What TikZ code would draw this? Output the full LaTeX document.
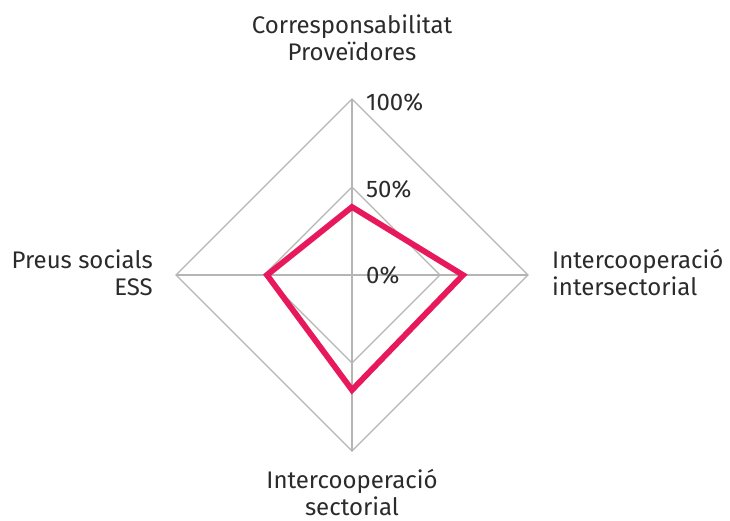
\documentclass[tikz,border=0pt]{standalone}
\usepackage{fontspec}
\setmainfont{Fira Sans}
\definecolor{gridgray}{HTML}{B5B5B5}
\definecolor{datapink}{HTML}{E8185C}
\definecolor{txt}{HTML}{2B2B2B}
\begin{document}
\begin{tikzpicture}[x=1pt,y=-1pt,
  grid/.style={draw=gridgray,line width=1.3pt},
  series/.style={draw=datapink,line width=5.8pt,line join=miter},
  lbl/.style={text=txt,font=\fontsize{24}{27}\selectfont,inner sep=0pt},
  tick/.style={text=txt,font=\fontsize{24}{27}\selectfont,inner sep=0pt,anchor=base west}]
\useasboundingbox (0,0) rectangle (730,520);
\coordinate (O) at (352,275);
\coordinate (T) at (352,99);
\coordinate (R) at (528,275);
\coordinate (B) at (352,451);
\coordinate (L) at (176,275);
\coordinate (T5) at (352,187);
\coordinate (R5) at (440,275);
\coordinate (B5) at (352,363);
\coordinate (L5) at (264,275);
\draw[grid] (T) -- (R) -- (B) -- (L) -- cycle;
\draw[grid] (T5) -- (R5) -- (B5) -- (L5) -- cycle;
\draw[grid] (T) -- (B);
\draw[grid] (L) -- (R);
\coordinate (dT) at (352,207);
\coordinate (dR) at (463,275);
\coordinate (dB) at (352,390);
\coordinate (dL) at (267,275);
\draw[series] (dT) -- (dR) -- (dB) -- (dL) -- cycle;
\node[tick] (t100) at (366,110) {100\%};
\node[tick] (t50) at (366,197) {50\%};
\node[tick] (t0) at (366,283) {0\%};
\node[lbl,anchor=base,align=center] (lt) at (352,60) {Corresponsabilitat\\Proveïdores};
\node[lbl,anchor=base west,align=left] (lr) at (552,295) {Intercooperació\\intersectorial};
\node[lbl,anchor=base east,align=right] (ll) at (153,295) {Preus socials\\ESS};
\node[lbl,anchor=base,align=center] (lb) at (352,515) {Intercooperació\\sectorial};
\end{tikzpicture}
\end{document}
